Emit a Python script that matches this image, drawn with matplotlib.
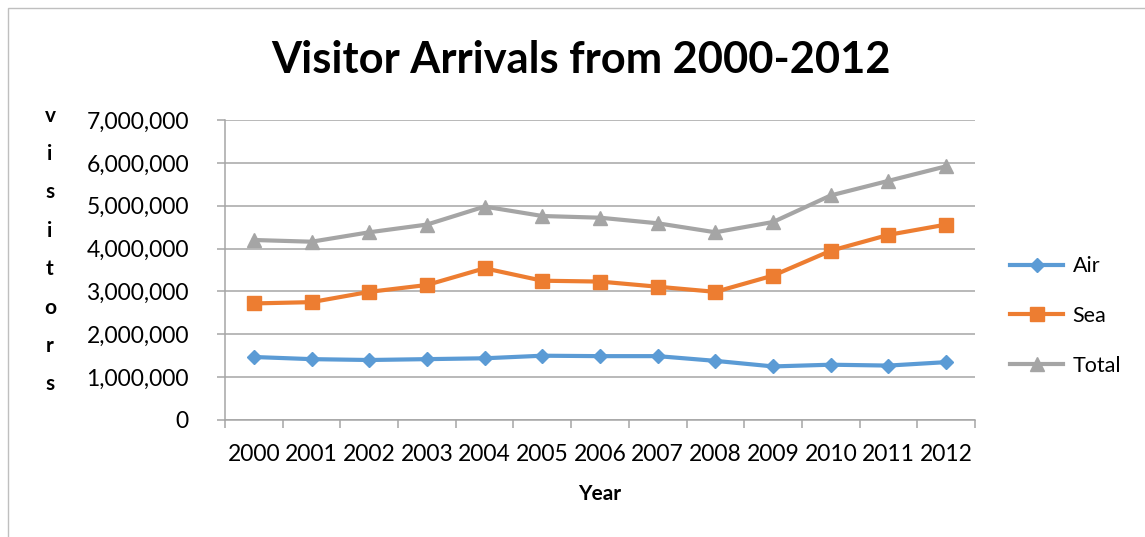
import numpy as np
import matplotlib
matplotlib.use("Agg")
import matplotlib.pyplot as plt
from matplotlib.patches import Rectangle
from matplotlib.ticker import FuncFormatter, FixedLocator

years = ["2000", "2001", "2002", "2003", "2004", "2005", "2006",
         "2007", "2008", "2009", "2010", "2011", "2012"]
air = [1470000, 1420000, 1400000, 1420000, 1440000, 1500000, 1490000,
       1490000, 1380000, 1250000, 1290000, 1270000, 1350000]
sea = [2720000, 2750000, 2990000, 3150000, 3540000, 3250000, 3230000,
       3110000, 2990000, 3370000, 3950000, 4320000, 4560000]
total = [4200000, 4160000, 4380000, 4560000, 4980000, 4760000, 4720000,
         4590000, 4380000, 4620000, 5240000, 5580000, 5920000]

plt.rcParams["font.family"] = ["Lato", "DejaVu Sans"]

fig = plt.figure(figsize=(11.45, 5.37), dpi=100)
ax = fig.add_axes([225 / 1145, 1 - 420 / 537, 750 / 1145, 300 / 537])

x = np.arange(len(years))
ax.plot(x, air, color="#5B9BD5", lw=3, marker="D", ms=7.5, label="Air")
ax.plot(x, sea, color="#ED7D31", lw=3, marker="s", ms=9.5, label="Sea")
ax.plot(x, total, color="#A5A5A5", lw=3, marker="^", ms=9.5, label="Total")

ax.set_xlim(-0.5, len(years) - 0.5)
ax.set_ylim(0, 7000000)
ax.set_yticks(np.arange(0, 7000001, 1000000))
ax.yaxis.set_major_formatter(FuncFormatter(lambda v, p: f"{int(v):,}"))
ax.yaxis.grid(True, color="#a6a6a6", lw=1.1)
ax.set_axisbelow(True)

ax.set_xticks(x)
ax.set_xticklabels(years)
ax.xaxis.set_minor_locator(FixedLocator(np.arange(-0.5, len(years), 1)))
ax.tick_params(axis="x", which="major", length=0, labelsize=16.5, pad=17)
ax.tick_params(axis="x", which="minor", length=6, color="#a6a6a6", width=1.1)
ax.tick_params(axis="y", length=6, color="#a6a6a6", width=1.1, labelsize=16.5, pad=20)

for s in ["top", "right"]:
    ax.spines[s].set_visible(False)
for s in ["left", "bottom"]:
    ax.spines[s].set_color("#a6a6a6")
    ax.spines[s].set_linewidth(1.1)

ax.set_xlabel("Year", fontsize=15, fontweight="bold", labelpad=14)
fig.text(50 / 1145, 1 - 250 / 537, "v\ni\ns\ni\nt\no\nr\ns", ha="center", va="center",
         fontsize=15, fontweight="bold", linespacing=2.15)

fig.suptitle("Visitor Arrivals from 2000-2012", x=581 / 1145, y=1 - 60 / 537,
             va="center", fontsize=31.2, fontweight="bold")

leg = ax.legend(loc="center left", bbox_to_anchor=(1.047, 0.347), frameon=False,
                borderaxespad=0, borderpad=0, fontsize=15.5, handlelength=2.45,
                handletextpad=0.45, labelspacing=1.38)

fig.patches.append(Rectangle((8 / 1145, -0.05), 1.2, 1 - 8 / 537 + 0.05,
                             transform=fig.transFigure, fill=False,
                             edgecolor="#bfbfbf", lw=1))

fig.savefig("out.png", dpi=100)
